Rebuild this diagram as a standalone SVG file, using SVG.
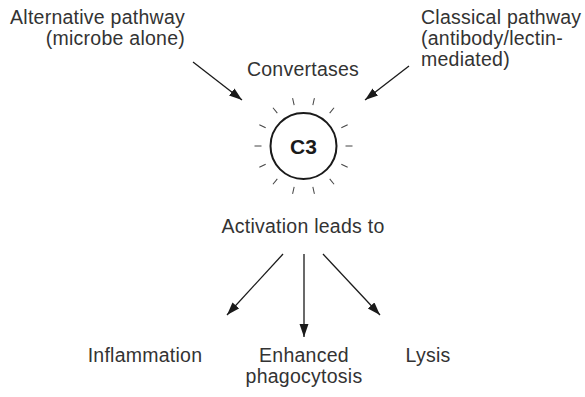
<svg xmlns="http://www.w3.org/2000/svg" width="585" height="397" viewBox="0 0 585 397">
<defs>
<style>
.t{font-family:"Liberation Sans",Arial,sans-serif;font-size:19.5px;fill:#333;letter-spacing:0.25px}
.c{stroke:#1a1a1a;stroke-width:1.3;fill:none;marker-end:url(#ah)}
.ray{stroke:#444;stroke-width:1}
</style>
<marker id="ah" markerUnits="userSpaceOnUse" markerWidth="14" markerHeight="10" refX="13" refY="4.5" orient="auto">
<path d="M0,0 L13,4.5 L0,9 z" fill="#1a1a1a"/>
</marker>
</defs>
<rect width="585" height="397" fill="#fff"/>
<g id="alt">
<text class="t" x="185" y="24" text-anchor="end">Alternative pathway</text>
<text class="t" x="185" y="45" text-anchor="end">(microbe alone)</text>
</g>
<g id="classical">
<text class="t" x="421" y="24">Classical pathway</text>
<text class="t" x="421" y="45">(antibody/lectin-</text>
<text class="t" x="421" y="66">mediated)</text>
</g>
<g id="convertases">
<text class="t" x="303" y="76" text-anchor="middle">Convertases</text>
</g>
<g id="c3">
<circle cx="303.5" cy="146" r="33" fill="none" stroke="#1a1a1a" stroke-width="2"/>
<g class="ray" transform="translate(303.5,146)">
<line x1="42" y1="0" x2="49" y2="0" transform="rotate(0)"/>
<line x1="42" y1="0" x2="49" y2="0" transform="rotate(25.714)"/>
<line x1="42" y1="0" x2="49" y2="0" transform="rotate(51.429)"/>
<line x1="42" y1="0" x2="49" y2="0" transform="rotate(77.143)"/>
<line x1="42" y1="0" x2="49" y2="0" transform="rotate(102.857)"/>
<line x1="42" y1="0" x2="49" y2="0" transform="rotate(128.571)"/>
<line x1="42" y1="0" x2="49" y2="0" transform="rotate(154.286)"/>
<line x1="42" y1="0" x2="49" y2="0" transform="rotate(180)"/>
<line x1="42" y1="0" x2="49" y2="0" transform="rotate(205.714)"/>
<line x1="42" y1="0" x2="49" y2="0" transform="rotate(231.429)"/>
<line x1="42" y1="0" x2="49" y2="0" transform="rotate(257.143)"/>
<line x1="42" y1="0" x2="49" y2="0" transform="rotate(282.857)"/>
<line x1="42" y1="0" x2="49" y2="0" transform="rotate(308.571)"/>
<line x1="42" y1="0" x2="49" y2="0" transform="rotate(334.286)"/>
</g>
<text x="303.5" y="153.5" text-anchor="middle" style="font-family:'Liberation Sans',Arial,sans-serif;font-size:21px;font-weight:bold;fill:#1a1a1a">C3</text>
</g>
<g id="activation">
<text class="t" x="303" y="233" text-anchor="middle">Activation leads to</text>
</g>
<g id="inflammation">
<text class="t" x="145" y="362" text-anchor="middle">Inflammation</text>
</g>
<g id="phagocytosis">
<text class="t" x="304" y="362" text-anchor="middle">Enhanced</text>
<text class="t" x="304" y="383" text-anchor="middle">phagocytosis</text>
</g>
<g id="lysis">
<text class="t" x="428" y="362" text-anchor="middle">Lysis</text>
</g>
<g id="connectors">
<line class="c" x1="193" y1="62" x2="242" y2="100"/>
<line class="c" x1="409" y1="66" x2="365" y2="100"/>
<line class="c" x1="283" y1="254" x2="227" y2="315"/>
<line class="c" x1="304" y1="254" x2="304" y2="337"/>
<line class="c" x1="323" y1="254" x2="380" y2="315"/>
</g>
</svg>
